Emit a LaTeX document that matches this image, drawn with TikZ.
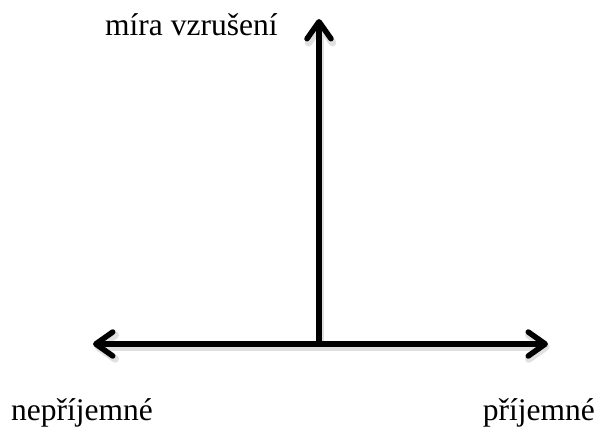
\documentclass[tikz,border=0pt]{standalone}
\usepackage{fontspec}
\setmainfont{Liberation Serif}
\usetikzlibrary{arrows.meta}
\begin{document}
\begin{tikzpicture}[x=1pt,y=1pt,
  axis/.style={line width=5.5pt, line cap=round, -{Straight Barb[length=17pt,width=24pt,round,line width=5.5pt]}},
  shadowline/.style={line width=7.5pt, line cap=round, draw=black!12, -{Straight Barb[length=17pt,width=24pt,round,line width=7.5pt]}},
  lbl/.style={font=\fontsize{31.5}{38}\selectfont, inner sep=0pt}]
\useasboundingbox (0,0) rectangle (598,429);
\coordinate (o) at (319,85);
\coordinate (top) at (319,410);
\coordinate (left) at (93,85);
\coordinate (right) at (548,85);
\coordinate (os) at (320.5,82);
\coordinate (tops) at (320.5,407);
\coordinate (lefts) at (94.5,82);
\coordinate (rights) at (549.5,82);
\draw[shadowline] (os) -- (tops);
\draw[shadowline] (os) -- (lefts);
\draw[shadowline] (os) -- (rights);
\draw[axis] (o) -- (top);
\draw[axis] (o) -- (left);
\draw[axis] (o) -- (right);
\node[lbl, anchor=base west] (ly) at (105,393) {míra vzrušení};
\node[lbl, anchor=base west] (ln) at (11,9) {nepříjemné};
\node[lbl, anchor=base east] (lp) at (595,9) {příjemné};
\end{tikzpicture}
\end{document}
